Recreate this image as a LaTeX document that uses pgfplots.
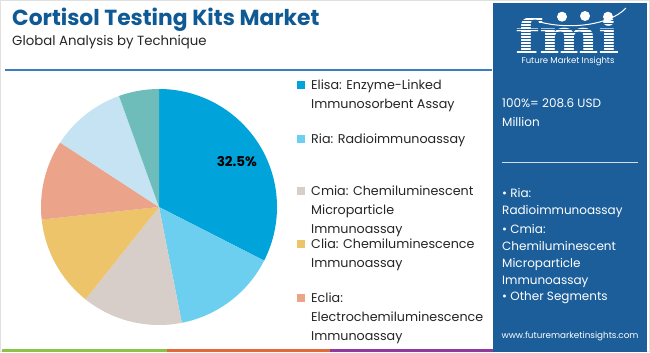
\documentclass[border=0pt]{standalone}
\usepackage{pgfplots}
\pgfplotsset{compat=1.18}
\usepackage{pgfplotstable}
\usepackage{fontspec}
\setmainfont{Poppins}
\newfontfamily\logofont{DejaVu Serif}
\definecolor{cElisa}{HTML}{00A3DA}
\definecolor{cRia}{HTML}{6DCFF0}
\definecolor{cCmia}{HTML}{D7CDC9}
\definecolor{cClia}{HTML}{EDC46A}
\definecolor{cEclia}{HTML}{EBA38A}
\definecolor{cOther}{HTML}{C5E3F3}
\definecolor{cTeal}{HTML}{6FBDBA}
\definecolor{titleblue}{HTML}{0F5A94}
\definecolor{panel}{HTML}{1C5E99}
\definecolor{rule}{HTML}{3A7EC0}
\definecolor{sGreen}{HTML}{8BC34A}
\definecolor{sOrange}{HTML}{E0693A}
\definecolor{sPurple}{HTML}{8E3A9D}
\pgfplotstableread{
value color
32.5 cElisa
14.4 cRia
13.8 cCmia
12.6 cClia
10.9 cEclia
10.3 cOther
5.5 cTeal
}\piedata
\begin{document}
\begin{tikzpicture}[x=1bp,y=1bp]
% canvas
\fill[white] (0,0) rectangle (650,352);
\draw[black!12, line width=1bp] (0.5,0.5) rectangle (649.5,351.5);
% title
\node[anchor=base west, inner sep=0, text=titleblue, font=\fontsize{21.8bp}{24bp}\selectfont\bfseries] at (12,352-25) {Cortisol Testing Kits Market};
\node[anchor=base west, inner sep=0, text=black!85, font=\fontsize{13.3bp}{15bp}\selectfont] at (12,352-45) {Global Analysis by Technique};
\draw[rule, line width=1.5bp] (5,352-70) -- (492,352-70);
% bottom stripe
\fill[sGreen] (2,0) rectangle (167,3.5);
\fill[sOrange] (167,0) rectangle (330,3.5);
\fill[sPurple] (330,0) rectangle (493,3.5);
% pie
\begin{axis}[at={(159bp,145bp)}, anchor=center, x=118bp, y=118bp, xmin=-1, xmax=1, ymin=-1, ymax=1, hide axis, scale only axis, clip=false]
\xdef\startang{90}
\foreach \i in {0,...,6} {
  \pgfplotstablegetelem{\i}{value}\of\piedata \let\v\pgfplotsretval
  \pgfplotstablegetelem{\i}{color}\of\piedata \let\c\pgfplotsretval
  \pgfmathsetmacro\endang{\startang - 3.6*\v}
  \edef\temp{\noexpand\fill[\c] (axis cs:0,0) -- (axis cs:{cos(\startang)},{sin(\startang)}) arc[start angle=\startang, end angle=\endang, radius=118bp] -- cycle;}
  \temp
  \xdef\startang{\endang}
}
\node[font=\fontsize{13.5bp}{15bp}\selectfont\bfseries] at (axis cs:0.66,0.385) {32.5\%};
\end{axis}
% legend
\def\lf{\fontsize{12.7bp}{15bp}\selectfont}
\foreach \yy/\col in {85/cElisa,139/cRia,191/cCmia,244/cClia,298/cEclia} {
  \fill[\col] (297,352-\yy-4) rectangle (305,352-\yy+4);
}
\foreach \yy/\txt in {85/{Elisa: Enzyme-Linked},104/{Immunosorbent Assay},139/{Ria: Radioimmunoassay},191/{Cmia: Chemiluminescent},210/{Microparticle},229/{Immunoassay},244/{Clia: Chemiluminescence},263/{Immunoassay},298/{Eclia:},317/{Electrochemiluminescence},336/{Immunoassay}} {
  \node[anchor=base west, inner sep=0, text=black!85, font=\lf] at (311,352-\yy-4.3) {\txt};
}
% panel
\fill[panel] (493,0) rectangle (647,349);
\node[inner sep=0, text=white] at (567.5,352-35) {\resizebox{105bp}{36bp}{\logofont\bfseries fmi}};
\foreach \k in {0,...,12} {
  \draw[panel, line width=0.8bp] (512,352-17-\k*3) -- (625,352-17-\k*3);
}
\fill[white] (562,352-16.7) circle[radius=5];
\fill[white] (585,352-16) circle[radius=5];
\fill[white] (608,352-16.7) circle[radius=5];
\draw[white, line width=1bp] (540,352-22) .. controls (570,352-30) and (610,352-25) .. (626,352-8);
\node[inner sep=0, text=white, font=\fontsize{8.5bp}{10bp}\selectfont] at (568,352-61.5) {Future Market Insights};
\def\pf{\fontsize{12bp}{15bp}\selectfont}
\foreach \yy/\txt in {103.3/{100\%= 208.6 USD},122.7/{Million},193.3/{\textbullet\ Ria:},210.7/{Radioimmunoassay},229.3/{\textbullet\ Cmia:},246.7/{Chemiluminescent},263.3/{Microparticle},280.7/{Immunoassay},296.7/{\textbullet\ Other Segments}} {
  \node[anchor=base west, inner sep=0, text=white, font=\pf] at (502,352-\yy-4.2) {\txt};
}
\draw[white!80!panel, line width=1bp] (502,352-162.3) -- (638,352-162.3);
\node[inner sep=0, text=white, font=\fontsize{8.8bp}{10bp}\selectfont] at (570,352-336.7) {www.futuremarketinsights.com};
\end{tikzpicture}
\end{document}
